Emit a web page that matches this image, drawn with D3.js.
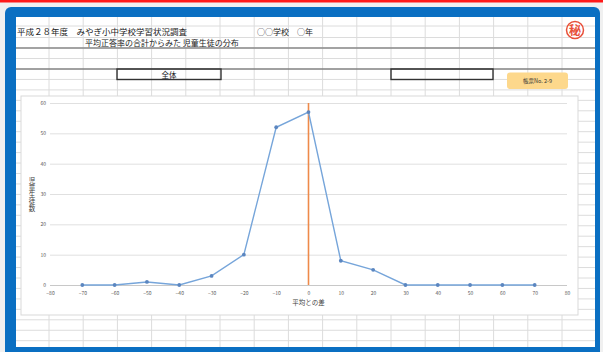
<!DOCTYPE html>
<html>
<head>
<meta charset="utf-8">
<script src="https://cdn.jsdelivr.net/npm/d3@7"></script>
<style>
  html, body { margin: 0; padding: 0; background: #f0f0f0; }
  svg { display: block; }
  text { font-family: "Noto Sans CJK JP", "Noto Sans", sans-serif; }
</style>
</head>
<body>
<svg id="sheet" width="603" height="352"></svg>
<script>
// Distribution of students by difference from the mean total score
const diffs  = [-70, -60, -50, -40, -30, -20, -10, 0, 10, 20, 30, 40, 50, 60, 70];
const counts = [0, 0, 1, 0, 3, 10, 52, 57, 8, 5, 0, 0, 0, 0, 0];
const xTickValues = [-80, -70, -60, -50, -40, -30, -20, -10, 0, 10, 20, 30, 40, 50, 60, 70, 80];
const yTickValues = [0, 10, 20, 30, 40, 50, 60];
const meanDiff = 0;
const meanSpan = [0, 60];

const titleLine1 = "平成２８年度　みやぎ小中学校学習状況調査";
const schoolLine = "○○学校　○年";
const titleLine2 = "平均正答率の合計からみた 児童生徒の分布";
const groupLabel = "全体";
const formLabel = "帳票No. 2-9";
const yTitle = "児童生徒数";
const xTitle = "平均との差";

const svg = d3.select("#sheet");

// top red strip
svg.append("rect").attr("x", 0).attr("y", 0).attr("width", 603).attr("height", 2.5).attr("fill", "#ff1a1a");

// blue window frame
svg.append("rect").attr("x", 5).attr("y", 7).attr("width", 595).attr("height", 350)
  .attr("rx", 6).attr("fill", "#0a6fc2");
svg.append("rect").attr("x", 16).attr("y", 17).attr("width", 579).attr("height", 330).attr("fill", "#ffffff");

// spreadsheet cells
const sheet = svg.append("g");
const colXs = d3.range(0, 17).map(k => 14.8 + 34.2 * k).filter(x => x > 16 && x < 595);
const rowYs = [26, 37.5, 48, 58.5].concat(d3.range(0, 27).map(k => 69 + 10.45 * k)).filter(y => y < 347);
sheet.selectAll("line.col").data(colXs).join("line")
  .attr("x1", d => d).attr("x2", d => d).attr("y1", 17).attr("y2", 347)
  .attr("stroke", "#dcdcdc").attr("stroke-width", 1);
sheet.selectAll("line.row").data(rowYs).join("line")
  .attr("x1", 16).attr("x2", 595).attr("y1", d => d).attr("y2", d => d)
  .attr("stroke", "#dcdcdc").attr("stroke-width", 1);

// sheet borders
sheet.append("line").attr("x1", 16).attr("x2", 595).attr("y1", 48).attr("y2", 48)
  .attr("stroke", "#8a8a8a").attr("stroke-width", 1.6);
sheet.append("line").attr("x1", 16).attr("x2", 595).attr("y1", 69).attr("y2", 69)
  .attr("stroke", "#555555").attr("stroke-width", 1);
[[117, 221], [391, 493]].forEach(([a, b]) => {
  sheet.append("rect").attr("x", a).attr("y", 69).attr("width", b - a).attr("height", 10.5)
    .attr("fill", "none").attr("stroke", "#333333").attr("stroke-width", 1.4);
});

// header texts
sheet.append("text").attr("x", 17).attr("y", 35).attr("font-size", 8.5).attr("fill", "#222").text(titleLine1);
sheet.append("text").attr("x", 257).attr("y", 35).attr("font-size", 8).attr("fill", "#222").text(schoolLine);
sheet.append("text").attr("x", 85).attr("y", 45.5).attr("font-size", 8).attr("fill", "#222").text(titleLine2);
sheet.append("text").attr("x", 169).attr("y", 77.5).attr("font-size", 7.5).attr("text-anchor", "middle").attr("fill", "#222").text(groupLabel);

// confidential stamp
sheet.append("circle").attr("cx", 575).attr("cy", 30).attr("r", 8.5)
  .attr("fill", "#fff").attr("stroke", "#e8503a").attr("stroke-width", 1.5);
sheet.append("text").attr("x", 575).attr("y", 34.5).attr("font-size", 12).attr("font-weight", "bold")
  .attr("text-anchor", "middle").attr("fill", "#e8503a").text("秘");

// form number badge
sheet.append("rect").attr("x", 507).attr("y", 72.5).attr("width", 61).attr("height", 16.5).attr("rx", 3)
  .attr("fill", "#fdd88c");
sheet.append("text").attr("x", 537.5).attr("y", 83).attr("font-size", 5.5).attr("text-anchor", "middle")
  .attr("fill", "#333").text(formLabel);

// chart area
const chart = svg.append("g");
chart.append("rect").attr("x", 21).attr("y", 96).attr("width", 557).attr("height", 219)
  .attr("fill", "#ffffff").attr("stroke", "#d9d9d9").attr("stroke-width", 1);

const x = d3.scaleLinear().domain([-80, 80]).range([50, 567]);
const y = d3.scaleLinear().domain([0, 60]).range([285, 103]);

// horizontal gridlines and value labels
const yAxis = d3.axisLeft(y).tickValues(yTickValues).tickSize(-(567 - 50)).tickPadding(4);
const gy = chart.append("g").attr("transform", "translate(50,0)").call(yAxis);
gy.select(".domain").remove();
gy.selectAll(".tick line").attr("stroke", d => d === 0 ? "#c8c8c8" : "#e0e0e0").attr("stroke-width", 1);
gy.selectAll(".tick text").attr("font-size", 5).attr("fill", "#595959")
  .attr("font-family", "'Noto Sans', sans-serif");

const xAxis = d3.axisBottom(x).tickValues(xTickValues).tickSize(0).tickPadding(6);
const gx = chart.append("g").attr("transform", "translate(0,285)").call(xAxis);
gx.select(".domain").remove();
gx.selectAll(".tick text").attr("font-size", 5).attr("fill", "#595959")
  .attr("font-family", "'Noto Sans', sans-serif");

// mean marker line
chart.append("line")
  .attr("x1", x(meanDiff)).attr("x2", x(meanDiff))
  .attr("y1", y(meanSpan[0])).attr("y2", y(meanSpan[1]))
  .attr("stroke", "#ee8a4a").attr("stroke-width", 1.6);

// distribution line
const pts = diffs.map((d, i) => [d, counts[i]]);
chart.append("path").datum(pts)
  .attr("d", d3.line().x(d => x(d[0])).y(d => y(d[1])))
  .attr("fill", "none").attr("stroke", "#76a5da").attr("stroke-width", 1.4);
chart.selectAll("circle.pt").data(pts).join("circle")
  .attr("cx", d => x(d[0])).attr("cy", d => y(d[1])).attr("r", 1.9)
  .attr("fill", "#5b86c0");

// axis titles (vertical title set upright, top to bottom)
chart.append("text").attr("x", 32).attr("y", 177).attr("font-size", 6.5)
  .style("writing-mode", "vertical-rl").style("text-orientation", "upright")
  .attr("letter-spacing", 0.5).attr("fill", "#404040").text(yTitle);
chart.append("text").attr("x", 308.5).attr("y", 305).attr("font-size", 6.5)
  .attr("text-anchor", "middle").attr("fill", "#404040").text(xTitle);
</script>
</body>
</html>
